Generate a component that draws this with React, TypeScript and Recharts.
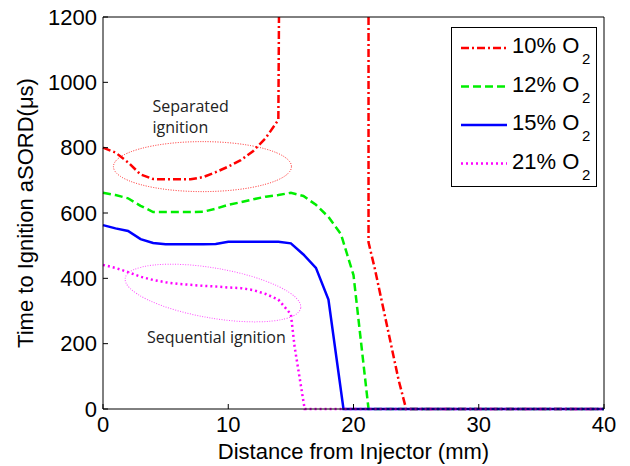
import { LineChart, Line, XAxis, YAxis, Legend, ReferenceDot } from 'recharts'

// distance from injector (mm) and time to ignition (us) per O2 level
const x10 = [0, 1, 2, 3, 4, 5, 6, 7, 8, 9, 10, 11, 12, 13, 14, 14.05, 17, 21.2, 21.2, 21.7, 23.6, 24.2, 40]
const y10 = [800, 785, 755, 718, 704, 703, 703, 703, 710, 725, 742, 762, 790, 830, 885, 1200, null, 1200, 510, 430, 89, 0, 0]

const x12 = [0, 1, 2, 3, 4, 5, 6, 7, 8, 9, 10, 11, 12, 13, 14, 15, 16, 17, 18, 19, 20, 21.2, 40]
const y12 = [662, 655, 645, 622, 603, 603, 603, 603, 604, 613, 625, 633, 642, 650, 655, 662, 652, 625, 588, 535, 410, 0, 0]

const x15 = [0, 1, 2, 3, 4, 5, 6, 7, 8, 9, 10, 11, 12, 13, 14, 15, 16, 17, 18, 19.2, 40]
const y15 = [563, 553, 545, 520, 508, 504, 504, 504, 504, 505, 512, 512, 512, 512, 512, 507, 473, 432, 335, 0, 0]

const x21 = [0, 1, 2, 3, 4, 5, 6, 7, 8, 9, 10, 11, 12, 13, 14, 15, 15.3, 16.1, 40]
const y21 = [441, 432, 419, 405, 395, 388, 383, 380, 377, 375, 372, 370, 364, 352, 335, 290, 190, 0, 0]

const xTicks = [0, 10, 20, 30, 40]
const yTicks = [0, 200, 400, 600, 800, 1000, 1200]

const toPoints = (xs: number[], ys: (number | null)[]) => xs.map((x, i) => ({ x, y: ys[i] }))

const series = [
  { name: '10', data: toPoints(x10, y10), color: '#ff0000', dash: '8 3 2 3' },
  { name: '12', data: toPoints(x12, y12), color: '#00ee00', dash: '8 4' },
  { name: '15', data: toPoints(x15, y15), color: '#0000ff', dash: undefined },
  { name: '21', data: toPoints(x21, y21), color: '#ff00ff', dash: '2 3' },
]

const FONT = '"Liberation Sans", Arial, sans-serif'
const tickStyle = { fill: '#000', fontSize: 22, fontFamily: FONT }

function LegendBox() {
  return (
    <div style={{ width: 146, height: 160, border: '1.5px solid #000', background: '#fff', boxSizing: 'border-box' }}>
      <svg width={146} height={160}>
        {series.map((s, i) => (
          <g key={s.name}>
            <line x1={9} x2={55} y1={20 + 38.5 * i} y2={20 + 38.5 * i} stroke={s.color} strokeWidth={2.5} strokeDasharray={s.dash} />
            <text x={60} y={25 + 38.5 * i} fontSize={22} fontFamily={FONT} fill="#000">{s.name}% O</text>
            <text x={130} y={36 + 38.5 * i} fontSize={15} fontFamily={FONT} fill="#000">2</text>
          </g>
        ))}
      </svg>
    </div>
  )
}

export default function App() {
  return (
    <div style={{ position: 'absolute', left: 0, top: 0, width: 630, height: 466, background: '#fff' }}>
      <LineChart width={630} height={466} margin={{ top: 16, right: 25, left: 0, bottom: 0 }}>
        <XAxis
          dataKey="x"
          type="number"
          domain={[0, 40]}
          ticks={xTicks}
          height={57}
          tickSize={-5}
          tickMargin={12}
          tick={tickStyle}
          stroke="#000"
          allowDuplicatedCategory={false}
          label={({ viewBox }: any) => (
            <text x={viewBox.x + viewBox.width / 2} y={viewBox.y + 50} textAnchor="middle" fontSize={22} fontFamily={FONT} fill="#000">
              Distance from Injector (mm)
            </text>
          )}
        />
        <XAxis xAxisId="top" dataKey="x" orientation="top" type="number" domain={[0, 40]} ticks={xTicks} height={1} tickSize={-5} tick={false} stroke="#000" />
        <YAxis
          type="number"
          domain={[0, 1200]}
          ticks={yTicks}
          width={103}
          tickSize={-5}
          tickMargin={11}
          tick={tickStyle}
          stroke="#000"
          label={({ viewBox }: any) => {
            const cy = viewBox.y + viewBox.height / 2
            return (
              <text x={33} y={cy} transform={`rotate(-90, 33, ${cy})`} textAnchor="middle" fontSize={22} fontFamily={FONT} fill="#000">
                Time to Ignition aSORD(μs)
              </text>
            )
          }}
        />
        <YAxis yAxisId="right" orientation="right" type="number" domain={[0, 1200]} ticks={yTicks} width={1} tickSize={-5} tick={false} stroke="#000" />

        {/* annotations */}
        <ReferenceDot
          x={7.94}
          y={742}
          shape={(p: any) => (
            <g>
              <ellipse cx={p.cx} cy={p.cy} rx={89} ry={25} fill="none" stroke="#ff2020" strokeWidth={1} strokeDasharray="1 1.5" />
              <text x={p.cx - 50} y={p.cy - 55} fontSize={16} fontFamily='"Open Sans", sans-serif' fill="#222">Separated</text>
              <text x={p.cx - 50} y={p.cy - 34} fontSize={16} fontFamily='"Open Sans", sans-serif' fill="#222">ignition</text>
            </g>
          )}
        />
        <ReferenceDot
          x={8.78}
          y={355}
          shape={(p: any) => (
            <g>
              <ellipse cx={p.cx} cy={p.cy} rx={89} ry={25} transform={`rotate(9.7, ${p.cx}, ${p.cy})`} fill="none" stroke="#ff50ff" strokeWidth={1} strokeDasharray="1 1.5" />
              <text x={p.cx - 66} y={p.cy + 50} fontSize={16} fontFamily='"Open Sans", sans-serif' fill="#222">Sequential ignition</text>
            </g>
          )}
        />

        {/* invisible series so the top and right box axes get drawn */}
        <Line data={series[2].data} dataKey="y" xAxisId="top" yAxisId="right" stroke="none" dot={false} activeDot={false} isAnimationActive={false} legendType="none" />

        {series.map((s) => (
          <Line
            key={s.name}
            data={s.data}
            dataKey="y"
            type="linear"
            stroke={s.color}
            strokeWidth={2.5}
            strokeDasharray={s.dash}
            dot={false}
            activeDot={false}
            isAnimationActive={false}
          />
        ))}
        <Legend layout="vertical" align="center" verticalAlign="middle" wrapperStyle={{ left: 451, top: 27, width: 146 }} content={() => <LegendBox />} />
      </LineChart>
    </div>
  )
}
